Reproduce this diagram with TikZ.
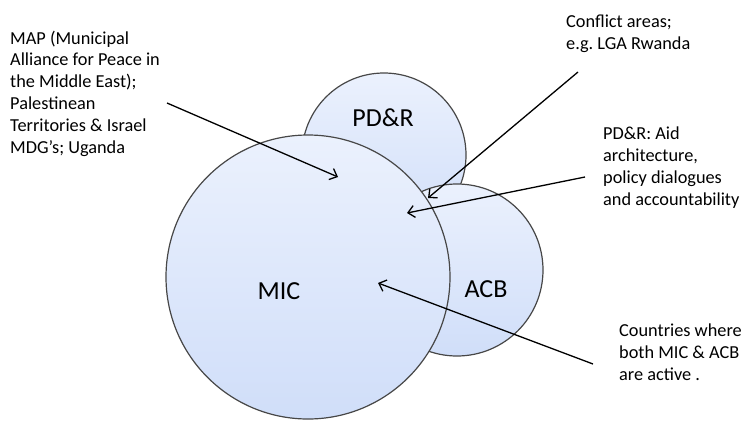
\documentclass[tikz,border=0pt]{standalone}
\usepackage{fontspec}
\setmainfont{Carlito}
\usepackage{tikz}
\usetikzlibrary{arrows.meta}
\definecolor{topblue}{RGB}{235,241,253}
\definecolor{bottomblue}{RGB}{208,222,249}
\frenchspacing

\begin{document}
\begin{tikzpicture}[x=1pt,y=-1pt,
  area/.style={circle,draw=black!72,line width=1.2pt,inner sep=0pt,
    top color=topblue,bottom color=bottomblue},
  areaname/.style={font=\fontsize{26}{30}\selectfont},
  note/.style={align=left,inner sep=0pt,anchor=base west,
    font=\fontsize{18.3}{21.8}\selectfont},
  pointer/.style={line width=1.3pt,-{Straight Barb[length=6.5pt,width=12pt]}}
]
\useasboundingbox (0,0) rectangle (745,421);

% the circles
\node[area,minimum size=164pt] (pdr) at (384,155) {};
\node[area,minimum size=172pt] (acb) at (457,270) {};
\node[area,minimum size=284pt] (mic) at (308,277) {};

% the circle names
\node[areaname] (pdrname) at (383,118) {PD\&R};
\node[areaname] (acbname) at (486,289) {ACB};
\node[areaname] (micname) at (279,291) {MIC};

% the notes (placed by the baseline of their last line)
\node[note] (map) at (10,153) {MAP (Municipal\\Alliance for Peace in\\the Middle East);\\Palestinean\\Territories \& Israel\\MDG’s; Uganda};
\node[note] (conflict) at (566,49) {Conflict areas;\\e.g. LGA Rwanda};
\node[note] (aid) at (603,205) {PD\&R: Aid\\architecture,\\policy dialogues\\and accountability};
\node[note] (both) at (619,380) {Countries where\\both MIC \& ACB\\are active .};

% ends of the pointers
\coordinate (mapstart) at (167,103);
\coordinate (mapend) at (338,177);
\coordinate (conflictstart) at (578,72);
\coordinate (conflictend) at (428,198);
\coordinate (aidstart) at (585,177);
\coordinate (aidend) at (407,213);
\coordinate (bothstart) at (593,364);
\coordinate (bothend) at (378,283);

% the pointers
\foreach \s in {map,conflict,aid,both}
    \draw[pointer] (\s start) -- (\s end);

\end{tikzpicture}
\end{document}
